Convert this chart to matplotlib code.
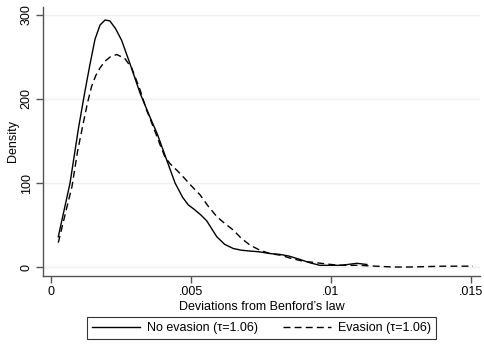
import matplotlib.pyplot as plt

# Kerndichte-Schaetzungen
x_no = [0.00026, 0.00045, 0.00068, 0.00098, 0.00120, 0.00139, 0.00157, 0.00175,
        0.00193, 0.00210, 0.00230, 0.00252, 0.00282, 0.00318, 0.00354, 0.00380,
        0.00407, 0.00443, 0.00470, 0.00490, 0.00510, 0.00535, 0.00556, 0.00575,
        0.00592, 0.00620, 0.00651, 0.00680, 0.00711, 0.00746, 0.00782, 0.00818,
        0.00850, 0.00889, 0.00925, 0.00960, 0.00995, 0.01032, 0.01060, 0.01092,
        0.01128]
y_no = [36, 65, 100, 165, 207, 241, 271, 288,
        294, 293, 284, 270, 242, 207, 178, 158,
        133, 100, 83, 74, 69, 62, 55, 45,
        36, 27, 22, 20, 19, 18, 16, 15,
        13, 9, 5, 2, 2, 2, 3, 4.4,
        3]

x_ev = [0.00026, 0.00050, 0.00075, 0.00095, 0.00115, 0.00130, 0.00145, 0.00160,
        0.00175, 0.00193, 0.00211, 0.00235, 0.00264, 0.00288, 0.00318, 0.00340,
        0.00365, 0.00390, 0.00407, 0.00425, 0.00450, 0.00473, 0.00500, 0.00532,
        0.00560, 0.00592, 0.00620, 0.00651, 0.00680, 0.00711, 0.00746, 0.00782,
        0.00820, 0.00860, 0.00900, 0.00949, 0.01000, 0.01040, 0.01100, 0.01160,
        0.01223, 0.01280, 0.01342, 0.01400, 0.01450, 0.01507]
y_ev = [29, 62, 96, 138, 171, 195, 215, 228,
        237, 245, 250, 253, 248, 237, 211, 188,
        167, 145, 131, 123, 115, 107, 97, 86,
        73, 60, 52, 44, 34, 26, 20, 16,
        14, 10, 7, 5, 3, 2, 2, 1,
        0, 0, 0.5, 1, 1, 1]

xticks = [0, 0.005, 0.01, 0.015]
xticklabels = ["0", ".005", ".01", ".015"]
yticks = [0, 100, 200, 300]

plt.rcParams['font.family'] = ['Liberation Sans', 'DejaVu Sans']

fig = plt.figure(figsize=(4.84, 3.46), dpi=100)
ax = fig.add_axes([43 / 484, 70 / 346, 437 / 484, 269 / 346])

ax.plot(x_no, y_no, color='black', lw=1.0, label="No evasion (\u03c4=1.06)")
ax.plot(x_ev, y_ev, color='black', lw=1.0, dashes=(5, 3),
        label="Evasion (\u03c4=1.06)")

ax.set_xlim(-0.000286, 0.01532)
ax.set_ylim(-10.7, 309.5)

# Stata-Stil: nur linke und untere Achse, helle Gitterlinien
for s in ['top', 'right']:
    ax.spines[s].set_visible(False)
for s in ['left', 'bottom']:
    ax.spines[s].set_color('#555555')
    ax.spines[s].set_linewidth(1.0)
ax.set_yticks(yticks)
ax.set_xticks(xticks)
ax.set_xticklabels(xticklabels)
ax.grid(axis='y', color='#eaf2f3', lw=1.0)
ax.set_axisbelow(True)
ax.tick_params(direction='out', length=5, width=1.0, color='#555555',
               labelsize=9, pad=2.5)
plt.setp(ax.get_yticklabels(), rotation=90, va='center')

ax.set_xlabel("Deviations from Benford\u2019s law", fontsize=9, labelpad=1.5)
ax.set_ylabel("Density", fontsize=9, labelpad=1)

leg = fig.legend(loc='center', bbox_to_anchor=(261.5 / 484, 18 / 346), ncol=2,
                 fontsize=9, frameon=True, fancybox=False, edgecolor='black',
                 handlelength=3.8, handletextpad=0.6, columnspacing=2.0,
                 borderpad=0.4)
leg.get_frame().set_linewidth(0.8)

fig.savefig("out.png", dpi=100)
